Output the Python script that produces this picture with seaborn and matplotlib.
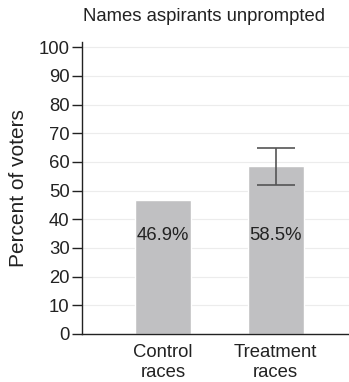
import matplotlib
matplotlib.use("Agg")
import matplotlib.pyplot as plt
import seaborn as sns
import pandas as pd

categories = ["Control\nraces", "Treatment\nraces"]
values = [46.9, 58.5]
labels = ["46.9%", "58.5%"]
err_low = [None, 52.1]
err_high = [None, 64.8]
yticks = list(range(0, 101, 10))

sns.set_style("white")
plt.rcParams['font.family'] = ['Liberation Sans', 'DejaVu Sans']

fig = plt.figure(figsize=(3.49, 3.82), dpi=100)
ax = fig.add_axes([0.235, 0.1257, 0.765, 0.764])

df = pd.DataFrame({"cat": categories, "val": values})
sns.barplot(data=df, x="cat", y="val", color="#c0c0c2", saturation=1, width=0.5, ax=ax, zorder=2)

for i, (lo, hi) in enumerate(zip(err_low, err_high)):
    if lo is not None:
        ax.errorbar(i, values[i], yerr=[[values[i] - lo], [hi - values[i]]],
                    fmt="none", ecolor="#555555", elinewidth=1.2, capsize=14, capthick=1.2, zorder=3)

for i, lab in enumerate(labels):
    ax.text(i, 34.5, lab, ha="center", va="center", fontsize=13.3, color="#222222", zorder=4)

ax.set_ylim(0, 101.8)
ax.set_xlim(-0.72, 1.65)
ax.set_yticks(yticks)
ax.yaxis.grid(True, color="#ececec", linewidth=0.8, zorder=0)
ax.set_axisbelow(True)
for s in ["top", "right"]:
    ax.spines[s].set_visible(False)
for s in ["left", "bottom"]:
    ax.spines[s].set_color("#222222")
    ax.spines[s].set_linewidth(1.0)
ax.tick_params(axis="y", left=True, length=7, width=1, color="#222222", labelsize=13.3, labelcolor="#222222", pad=2)
ax.tick_params(axis="x", bottom=False, labelsize=13.3, labelcolor="#222222", pad=4)
ax.set_xlabel("")
ax.set_ylabel("Percent of voters", fontsize=15, color="#222222")
ax.yaxis.set_label_coords(-0.203, 0.5)
fig.text(0.585, 0.957, "Names aspirants unprompted", ha="center", va="center", fontsize=13.3, color="#222222")

fig.savefig("out.png", dpi=100)
